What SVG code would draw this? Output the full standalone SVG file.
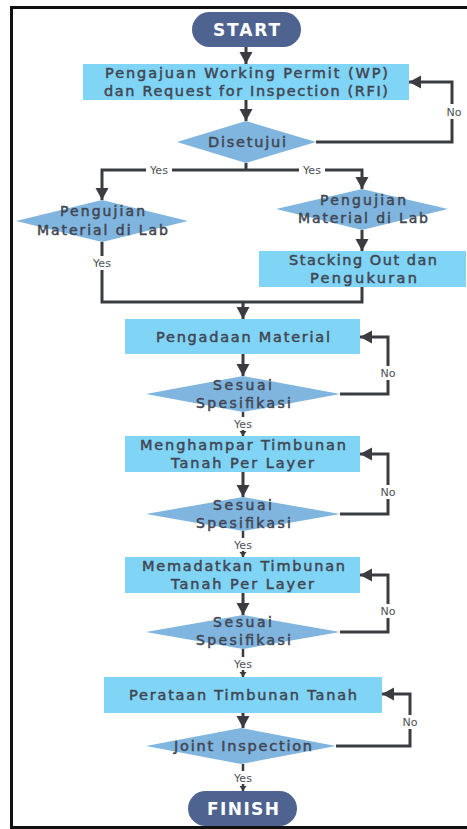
<svg xmlns="http://www.w3.org/2000/svg" width="467" height="829" viewBox="0 0 467 829">
  <defs>
    <marker id="arrow" markerUnits="userSpaceOnUse" markerWidth="14" markerHeight="14" refX="12" refY="6.5" orient="auto">
      <path d="M0,0 L12,6.5 L0,13 z" fill="#3b3c41"/>
    </marker>
    <marker id="arrow-sm" markerUnits="userSpaceOnUse" markerWidth="8" markerHeight="8" refX="5" refY="3.5" orient="auto">
      <path d="M0,0 L5,3.5 L0,7 z" fill="#3b3c41"/>
    </marker>
    <style>
      .frame { fill: #ffffff; stroke: #111111; stroke-width: 3; }
      .term { fill: #4e6390; }
      .term-text { font-family: "DejaVu Sans", "Noto Sans", sans-serif; font-size: 17px; font-weight: 700; fill: #ffffff; text-anchor: middle; }
      .proc { fill: #80d5f7; }
      .dec { fill: #7fb5de; }
      .label { font-family: "DejaVu Sans", "Noto Sans", sans-serif; font-size: 14.5px; fill: #424652; stroke: #424652; stroke-width: 0.5; text-anchor: middle; }
      .dlabel { font-size: 14px; }
      .conn { fill: none; stroke: #3b3c41; stroke-width: 3; }
      .conn-thin { fill: none; stroke: #3b3c41; stroke-width: 2.5; }
      .tag-bg { fill: #ffffff; }
      .tag { font-family: "DejaVu Sans", "Noto Sans", sans-serif; font-size: 11px; fill: #4d4f55; text-anchor: middle; }
    </style>
  </defs>

  <!-- page frame -->
  <rect class="frame" x="11.5" y="7.5" width="470" height="820"/>

  <!-- connectors -->
  <g id="connectors">
    <path class="conn" d="M246,47 V64" marker-end="url(#arrow)"/>
    <path class="conn" d="M246,100 V121" marker-end="url(#arrow)"/>
    <path class="conn" d="M316,142 H452 V82 H409" marker-end="url(#arrow)"/>
    <path class="conn" d="M246,163 V170"/>
    <path class="conn" d="M246,170 H102 V200" marker-end="url(#arrow)"/>
    <path class="conn" d="M246,170 H362 V189" marker-end="url(#arrow)"/>
    <path class="conn" d="M362,230 V251" marker-end="url(#arrow)"/>
    <path class="conn" d="M102,242 V302 H362 V287"/>
    <path class="conn" d="M243,302 V319" marker-end="url(#arrow)"/>

    <path class="conn" d="M243,354 V376" marker-end="url(#arrow)"/>
    <path class="conn" d="M340,394 H388 V337 H360" marker-end="url(#arrow)"/>
    <path class="conn-thin" d="M243,412 V436" marker-end="url(#arrow-sm)"/>

    <path class="conn" d="M243,472 V497" marker-end="url(#arrow)"/>
    <path class="conn" d="M340,514 H388 V454 H360" marker-end="url(#arrow)"/>
    <path class="conn-thin" d="M243,531 V557" marker-end="url(#arrow-sm)"/>

    <path class="conn" d="M243,593 V615" marker-end="url(#arrow)"/>
    <path class="conn" d="M340,632 H388 V575 H360" marker-end="url(#arrow)"/>
    <path class="conn-thin" d="M243,649 V677" marker-end="url(#arrow-sm)"/>

    <path class="conn" d="M243,713 V728" marker-end="url(#arrow)"/>
    <path class="conn" d="M336,746 H410 V694 H382" marker-end="url(#arrow)"/>
    <path class="conn-thin" d="M243,764 V791" marker-end="url(#arrow-sm)"/>

    <!-- branch tags -->
    <rect class="tag-bg" x="444" y="104" width="20" height="15"/>
    <text class="tag" x="454" y="116">No</text>
    <rect class="tag-bg" x="146" y="163" width="26" height="14"/>
    <text class="tag" x="159" y="174">Yes</text>
    <rect class="tag-bg" x="299" y="163" width="26" height="14"/>
    <text class="tag" x="312" y="174">Yes</text>
    <rect class="tag-bg" x="89" y="256" width="26" height="14"/>
    <text class="tag" x="102" y="267">Yes</text>

    <rect class="tag-bg" x="378" y="366" width="20" height="14"/>
    <text class="tag" x="388" y="377">No</text>
    <rect class="tag-bg" x="230" y="417" width="26" height="13"/>
    <text class="tag" x="243" y="428">Yes</text>

    <rect class="tag-bg" x="378" y="485" width="20" height="14"/>
    <text class="tag" x="388" y="496">No</text>
    <rect class="tag-bg" x="230" y="538" width="26" height="13"/>
    <text class="tag" x="243" y="549">Yes</text>

    <rect class="tag-bg" x="378" y="604" width="20" height="14"/>
    <text class="tag" x="388" y="615">No</text>
    <rect class="tag-bg" x="230" y="657" width="26" height="13"/>
    <text class="tag" x="243" y="668">Yes</text>

    <rect class="tag-bg" x="400" y="715" width="20" height="14"/>
    <text class="tag" x="410" y="726">No</text>
    <rect class="tag-bg" x="230" y="771" width="26" height="13"/>
    <text class="tag" x="243" y="782">Yes</text>
  </g>

  <g id="start">
    <rect class="term" x="192" y="12" width="109" height="35" rx="17.5"/>
    <text class="term-text" x="246.5" y="36" textLength="67">START</text>
  </g>

  <g id="pengajuan-wp">
    <rect class="proc" x="83" y="64" width="326" height="36"/>
    <text class="label" x="246.5" y="78" textLength="283">Pengajuan Working Permit (WP)</text>
    <text class="label" x="246" y="96" textLength="284">dan Request for Inspection (RFI)</text>
  </g>

  <g id="disetujui">
    <polygon class="dec" points="177,142 246,121 316,142 246,163"/>
    <text class="label" x="247" y="147" textLength="78">Disetujui</text>
  </g>

  <g id="uji-lab-kiri">
    <polygon class="dec" points="16,221 102,200 188,221 102,242"/>
    <text class="label dlabel" x="102.5" y="216" textLength="85">Pengujian</text>
    <text class="label dlabel" x="102.5" y="235" textLength="131">Material di Lab</text>
  </g>

  <g id="uji-lab-kanan">
    <polygon class="dec" points="276,209 362,189 448,209 362,230"/>
    <text class="label dlabel" x="363" y="205" textLength="86">Pengujian</text>
    <text class="label dlabel" x="363" y="223" textLength="130">Material di Lab</text>
  </g>

  <g id="stacking-out">
    <rect class="proc" x="259" y="251" width="207" height="36"/>
    <text class="label" x="363" y="265" textLength="148">Stacking Out dan</text>
    <text class="label" x="363.5" y="283" textLength="107">Pengukuran</text>
  </g>

  <g id="pengadaan">
    <rect class="proc" x="125" y="319" width="235" height="35"/>
    <text class="label" x="243" y="342" textLength="174">Pengadaan Material</text>
  </g>

  <g id="cek-spek-1">
    <polygon class="dec" points="146,394 243,376 340,394 243,412"/>
    <text class="label dlabel" x="242.5" y="390" textLength="59">Sesuai</text>
    <text class="label dlabel" x="243.5" y="408" textLength="95">Spesifikasi</text>
  </g>

  <g id="menghampar">
    <rect class="proc" x="125" y="436" width="235" height="36"/>
    <text class="label" x="243" y="450" textLength="206">Menghampar Timbunan</text>
    <text class="label" x="242.5" y="468" textLength="143">Tanah Per Layer</text>
  </g>

  <g id="cek-spek-2">
    <polygon class="dec" points="146,514 243,497 340,514 243,531"/>
    <text class="label dlabel" x="242.5" y="510" textLength="59">Sesuai</text>
    <text class="label dlabel" x="243.5" y="528" textLength="95">Spesifikasi</text>
  </g>

  <g id="memadatkan">
    <rect class="proc" x="125" y="557" width="235" height="36"/>
    <text class="label" x="243.5" y="571" textLength="203">Memadatkan Timbunan</text>
    <text class="label" x="242.5" y="589" textLength="143">Tanah Per Layer</text>
  </g>

  <g id="cek-spek-3">
    <polygon class="dec" points="146,632 243,615 340,632 243,649"/>
    <text class="label dlabel" x="242.5" y="627" textLength="59">Sesuai</text>
    <text class="label dlabel" x="243.5" y="645" textLength="95">Spesifikasi</text>
  </g>

  <g id="perataan">
    <rect class="proc" x="104" y="677" width="278" height="36"/>
    <text class="label" x="243" y="700" textLength="228">Perataan Timbunan Tanah</text>
  </g>

  <g id="joint-inspection">
    <polygon class="dec" points="146,746 241,728 336,746 241,764"/>
    <text class="label" x="243" y="751" textLength="138">Joint Inspection</text>
  </g>

  <g id="finish">
    <rect class="term" x="188" y="791" width="109" height="35" rx="17.5"/>
    <text class="term-text" x="243" y="815" textLength="72">FINISH</text>
  </g>
</svg>
